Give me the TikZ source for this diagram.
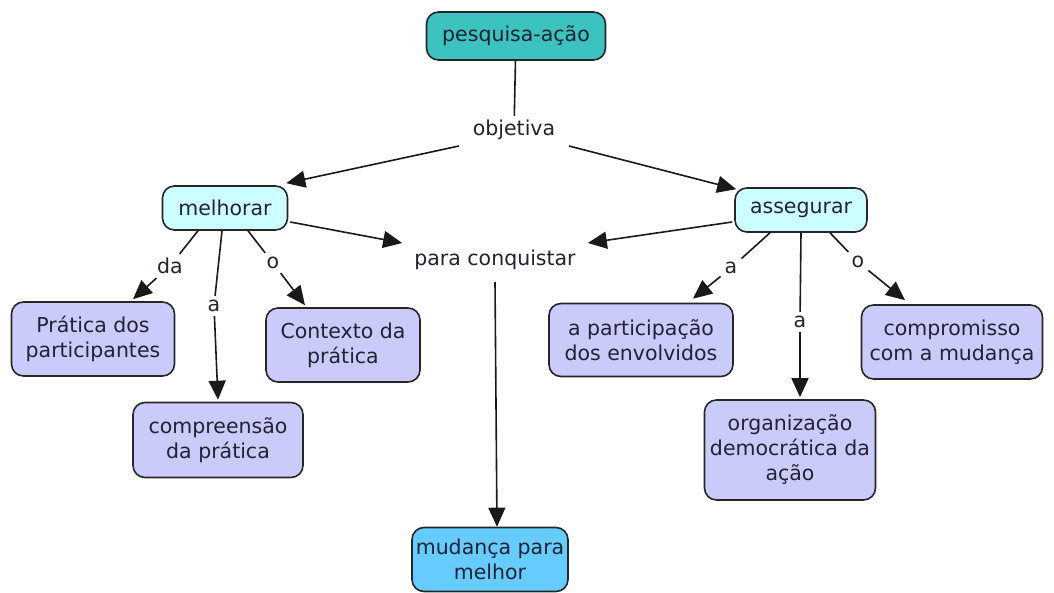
\documentclass[tikz,border=0pt]{standalone}
\usepackage{fontspec}
\setmainfont{DejaVu Sans}
\usetikzlibrary{arrows.meta}
\definecolor{teal1}{HTML}{3CC3BF}
\definecolor{cyan1}{HTML}{CCFFFF}
\definecolor{lav}{HTML}{CACBFA}
\definecolor{sky}{HTML}{66CCFF}
\definecolor{ink}{HTML}{222233}
\begin{document}
\begin{tikzpicture}[x=1pt,y=-1pt,
  concept/.style={draw=black!85, line width=1.6pt, rounded corners=12pt, align=center,
    font=\fontsize{20.5}{25}\selectfont, text=ink, inner sep=2pt},
  linklbl/.style={font=\fontsize{20.5}{25}\selectfont, text=ink, inner sep=4pt},
  conn/.style={line width=1.6pt, draw=black!90},
  arr/.style={conn, -{Triangle[length=19pt,width=17pt]}}]
\useasboundingbox (0,0) rectangle (1054,593);
\fill[white] (0,0) rectangle (1054,593);

\node[concept, fill=teal1, minimum width=179pt, minimum height=48pt] (pa) at (516,36) {pesquisa-ação};
\node[linklbl] (obj) at (514,130) {objetiva};
\node[concept, fill=cyan1, minimum width=125pt, minimum height=44pt] (mel) at (225,208) {melhorar};
\node[concept, fill=cyan1, minimum width=132pt, minimum height=44pt] (ass) at (801,210) {assegurar};
\node[linklbl] (pc) at (495,260) {para conquistar};

\node[concept, fill=lav, minimum width=163pt, minimum height=74pt] (prat) at (93,339) {Prática dos\\participantes};
\node[concept, fill=lav, minimum width=154pt, minimum height=74pt] (cont) at (343,345) {Contexto da\\prática};
\node[concept, fill=lav, minimum width=170pt, minimum height=75pt] (comp) at (218,440) {compreensão\\da prática};
\node[concept, fill=lav, minimum width=184pt, minimum height=73pt] (part) at (641,340) {a participação\\dos envolvidos};
\node[concept, fill=lav, minimum width=181pt, minimum height=74pt] (comr) at (952,342) {compromisso\\com a mudança};
\node[concept, fill=lav, minimum width=171pt, minimum height=100pt] (org) at (790,450) {organização\\democrática da\\ação};
\node[concept, fill=sky, minimum width=156pt, minimum height=64pt] (mud) at (490,559.5) {mudança para\\melhor};

\node[linklbl] (da) at (170,266) {da};
\node[linklbl] (a1) at (214,306) {a};
\node[linklbl] (o1) at (273,263) {o};
\node[linklbl] (a2) at (731,268) {a};
\node[linklbl] (a3) at (800,322) {a};
\node[linklbl] (o2) at (858,262) {o};

\draw[conn] (pa) -- (obj);
\draw[arr] ([xshift=-55pt,yshift=-16pt]obj.center) coordinate (ow) -- ([xshift=-2pt,yshift=2pt]mel.north east);
\draw[arr] ([xshift=55pt,yshift=-16pt]obj.center) coordinate (oe) -- ([xshift=2pt,yshift=-2pt]ass.north west);
\draw[arr] ([xshift=2pt,yshift=-14pt]mel.east) coordinate (me) -- ([xshift=-8pt,yshift=17pt]pc.west);
\draw[arr] ([xshift=-2pt,yshift=-12pt]ass.west) coordinate (aw) -- ([xshift=8pt,yshift=17pt]pc.east);
\draw[arr] ([yshift=-8pt]pc.south) coordinate (pcs) -- ([xshift=7pt]mud.north);

\draw[conn] ([xshift=-27pt]mel.south) coordinate (m1) -- (da);
\draw[arr] (da) -- ([xshift=40pt,yshift=2pt]prat.north);
\draw[conn] ([xshift=-3pt]mel.south) coordinate (m2) -- (a1);
\draw[arr] (a1) -- ([yshift=2pt]comp.north);
\draw[conn] ([xshift=23pt]mel.south) coordinate (m3) -- (o1);
\draw[arr] (o1) -- ([xshift=-38pt,yshift=2pt]cont.north);

\draw[conn] ([xshift=-31pt]ass.south) coordinate (s1) -- (a2);
\draw[arr] (a2) -- ([xshift=52pt,yshift=4pt]part.north);
\draw[conn] (ass.south) coordinate (s2) -- (a3);
\draw[arr] (a3) -- ([xshift=10pt,yshift=2pt]org.north);
\draw[conn] ([xshift=29pt]ass.south) coordinate (s3) -- (o2);
\draw[arr] (o2) -- ([xshift=-47pt,yshift=4pt]comr.north);
\end{tikzpicture}
\end{document}
